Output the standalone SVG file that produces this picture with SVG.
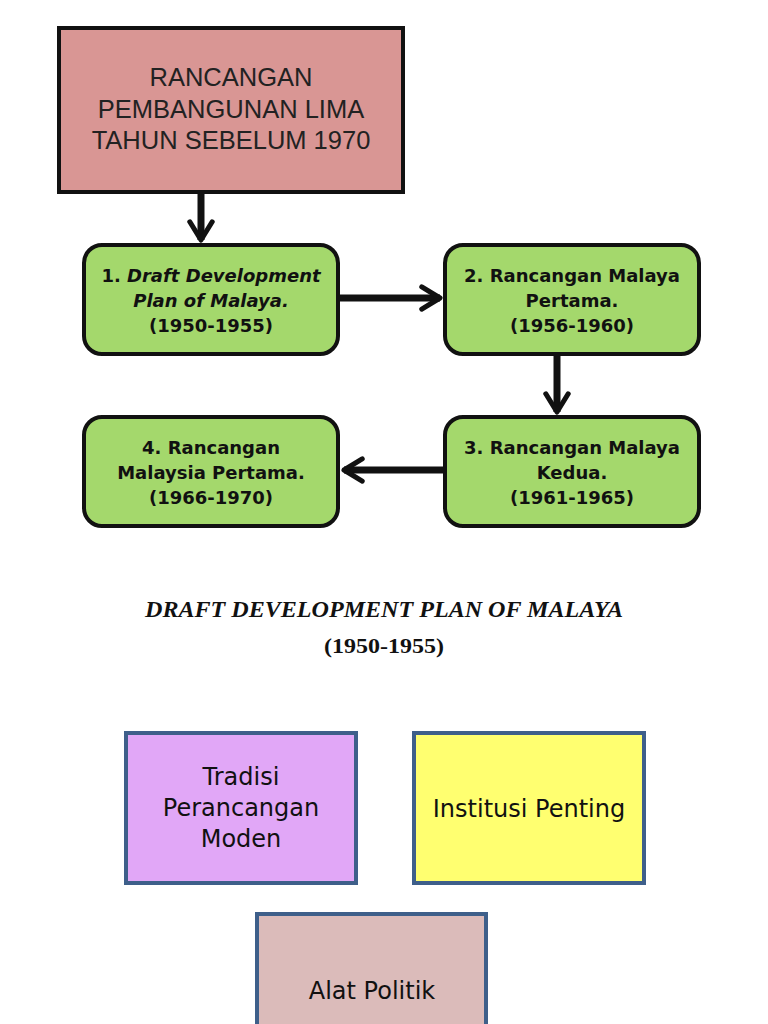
<svg xmlns="http://www.w3.org/2000/svg" width="768" height="1024" viewBox="0 0 768 1024">
<style>
.g{fill:#a4d86c;stroke:#111;stroke-width:4}
.gt{font-family:"DejaVu Sans",sans-serif;font-weight:bold;font-size:18px;fill:#111;text-anchor:middle}
.c{stroke:#111;stroke-width:7;fill:none}
.b{stroke:#3e5f8a;stroke-width:4}
.bt{font-family:"DejaVu Sans",sans-serif;font-size:24px;fill:#111;text-anchor:middle}
</style>
<defs>
<marker id="ah" viewBox="0 0 10 10" refX="8" refY="5" markerWidth="4" markerHeight="5" orient="auto" markerUnits="strokeWidth">
<path d="M1.5,1 L8,5 L1.5,9" fill="none" stroke="#111" stroke-width="1.8" stroke-linecap="round" stroke-linejoin="round"/>
</marker>
</defs>
<rect width="768" height="1024" fill="#fff"/>
<g id="connectors">
<line class="c" x1="201" y1="193" x2="201" y2="240" marker-end="url(#ah)"/>
<line class="c" x1="339" y1="298" x2="440" y2="298" marker-end="url(#ah)"/>
<line class="c" x1="557" y1="355" x2="557" y2="412" marker-end="url(#ah)"/>
<line class="c" x1="444" y1="470" x2="344" y2="470" marker-end="url(#ah)"/>
</g>
<g id="top">
<rect x="59" y="28" width="344" height="164" fill="#d99694" stroke="#111" stroke-width="4"/>
<g font-family="Liberation Sans, Arial, sans-serif" font-size="25.5" fill="#222" text-anchor="middle">
<text x="231" y="86">RANCANGAN</text>
<text x="231" y="118">PEMBANGUNAN LIMA</text>
<text x="231" y="149">TAHUN SEBELUM 1970</text>
</g>
</g>
<g id="n1">
<rect class="g" x="84" y="245" width="254" height="109" rx="18"/>
<text class="gt" x="211" y="282">1. <tspan font-style="italic">Draft Development</tspan></text>
<text class="gt" x="211" y="307" font-style="italic">Plan of Malaya.</text>
<text class="gt" x="211" y="332">(1950-1955)</text>
</g>
<g id="n2">
<rect class="g" x="445" y="245" width="254" height="109" rx="18"/>
<text class="gt" x="572" y="282">2. Rancangan Malaya</text>
<text class="gt" x="572" y="307">Pertama.</text>
<text class="gt" x="572" y="332">(1956-1960)</text>
</g>
<g id="n3">
<rect class="g" x="445" y="417" width="254" height="109" rx="18"/>
<text class="gt" x="572" y="454">3. Rancangan Malaya</text>
<text class="gt" x="572" y="479">Kedua.</text>
<text class="gt" x="572" y="504">(1961-1965)</text>
</g>
<g id="n4">
<rect class="g" x="84" y="417" width="254" height="109" rx="18"/>
<text class="gt" x="211" y="454">4. Rancangan</text>
<text class="gt" x="211" y="479">Malaysia Pertama.</text>
<text class="gt" x="211" y="504">(1966-1970)</text>
</g>
<g id="title" font-family="Liberation Serif, Times New Roman, serif" font-weight="bold" fill="#111" text-anchor="middle">
<text x="384" y="617" font-size="22.5" font-style="italic" textLength="478" lengthAdjust="spacingAndGlyphs">DRAFT DEVELOPMENT PLAN OF MALAYA</text>
<text x="384" y="653" font-size="22" textLength="120" lengthAdjust="spacingAndGlyphs">(1950-1955)</text>
</g>
<g id="tradisi">
<rect class="b" x="126" y="733" width="230" height="150" fill="#e1a7f7"/>
<text class="bt" x="241" y="785">Tradisi</text>
<text class="bt" x="241" y="816">Perancangan</text>
<text class="bt" x="241" y="847">Moden</text>
</g>
<g id="institusi">
<rect class="b" x="414" y="733" width="230" height="150" fill="#ffff70"/>
<text class="bt" x="529" y="817">Institusi Penting</text>
</g>
<g id="alat">
<rect class="b" x="257" y="914" width="229" height="120" fill="#dbbbba"/>
<text class="bt" x="372" y="999">Alat Politik</text>
</g>
</svg>
